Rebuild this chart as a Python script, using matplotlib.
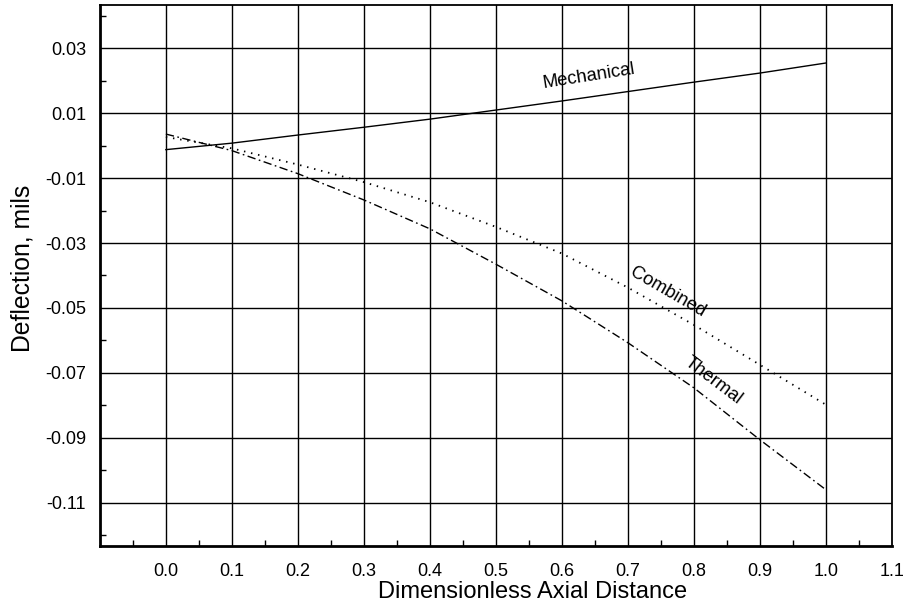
import matplotlib
matplotlib.use("Agg")
import matplotlib.pyplot as plt
import numpy as np

x_vals = [0.0, 0.1, 0.2, 0.3, 0.4, 0.5, 0.6, 0.7, 0.8, 0.9, 1.0]
mechanical = [-0.0012, 0.0008, 0.0033, 0.0057, 0.0082, 0.0110, 0.0138, 0.0167, 0.0196, 0.0224, 0.0255]
thermal = [0.0036, -0.0015, -0.0086, -0.0167, -0.0256, -0.0365, -0.0478, -0.0607, -0.0746, -0.0906, -0.1060]
combined = [0.0027, -0.0008, -0.0058, -0.0112, -0.0174, -0.0250, -0.0332, -0.0437, -0.0552, -0.0675, -0.0798]

x_ticks = [0.0, 0.1, 0.2, 0.3, 0.4, 0.5, 0.6, 0.7, 0.8, 0.9, 1.0, 1.1]
x_tick_labels = ["0.0", "0.1", "0.2", "0.3", "0.4", "0.5", "0.6", "0.7", "0.8", "0.9", "1.0", "1.1"]
y_ticks = [0.03, 0.01, -0.01, -0.03, -0.05, -0.07, -0.09, -0.11]
y_tick_labels = ["0.03", "0.01", "-0.01", "-0.03", "-0.05", "-0.07", "-0.09", "-0.11"]

plt.rcParams['font.family'] = ['Liberation Sans', 'DejaVu Sans']

fig = plt.figure(figsize=(9.08, 6.07), dpi=100)
ax = fig.add_axes([0.110, 0.1005, 0.872, 0.8913])

ax.set_xlim(-0.1, 1.1)
ax.set_ylim(-0.1234, 0.0434)

# grid lines
for gx in [0.0, 0.1, 0.2, 0.3, 0.4, 0.5, 0.6, 0.7, 0.8, 0.9, 1.0]:
    ax.axvline(gx, color='black', lw=1.0, zorder=1)
for gy in y_ticks:
    ax.axhline(gy, color='black', lw=1.0, zorder=1)

ax.plot(x_vals, mechanical, color='black', lw=1.0, ls='-', zorder=3)
ax.plot(x_vals, combined, color='black', lw=1.3, ls=(0, (0.8, 3.2)), zorder=3)
ax.plot(x_vals, thermal, color='black', lw=1.0, ls=(0, (6, 2.5, 1.2, 2.5)), zorder=3)

ax.text(0.641, 0.0213, "Mechanical", fontsize=13.3, rotation=9, ha='center', va='center', rotation_mode='anchor')
ax.text(0.760, -0.0450, "Combined", fontsize=13.3, rotation=-30, ha='center', va='center', rotation_mode='anchor')
ax.text(0.830, -0.0725, "Thermal", fontsize=13.3, rotation=-37, ha='center', va='center', rotation_mode='anchor')

ax.set_xticks(x_ticks)
ax.set_xticklabels(x_tick_labels, fontsize=13)
ax.set_yticks(y_ticks)
ax.set_yticklabels(y_tick_labels, fontsize=13)
ax.set_xticks(np.arange(-0.05, 1.1, 0.1), minor=True)
ax.set_yticks(np.arange(-0.12, 0.045, 0.02), minor=True)
ax.tick_params(axis='both', which='major', length=0, pad=12)
ax.tick_params(axis='y', which='major', pad=10)
ax.tick_params(axis='both', which='minor', direction='in', length=4, width=1)

ax.set_xlabel("Dimensionless Axial Distance", fontsize=17)
ax.xaxis.set_label_coords(0.547, -0.065, transform=ax.transAxes)
ax.set_ylabel("Deflection, mils", fontsize=17.8)
ax.yaxis.set_label_coords(-0.082, 0.513, transform=ax.transAxes)

for side in ['left', 'bottom']:
    ax.spines[side].set_linewidth(2.0)
for side in ['top', 'right']:
    ax.spines[side].set_linewidth(1.3)

fig.savefig("out.png", dpi=100)
